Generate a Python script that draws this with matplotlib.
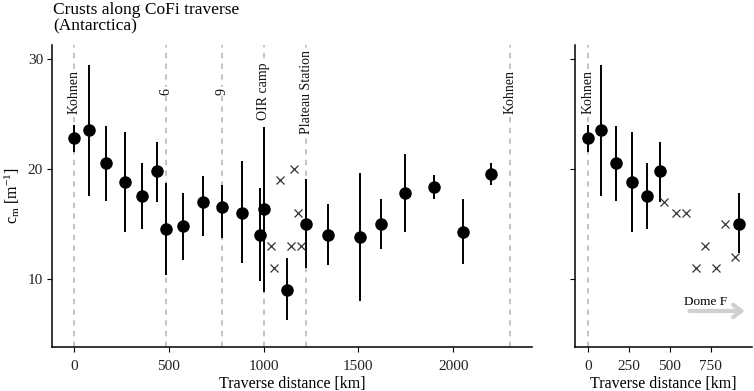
import matplotlib
matplotlib.use("Agg")
import matplotlib.pyplot as plt

plt.rcParams['font.family'] = ['Liberation Serif', 'DejaVu Serif']
plt.rcParams['mathtext.fontset'] = 'custom'
plt.rcParams['mathtext.rm'] = 'Liberation Serif'
plt.rcParams['mathtext.it'] = 'Liberation Serif:italic'

# CoFi traverse (left panel)
dist_cofi = [0, 80, 172, 271, 361, 439, 487, 576, 681, 779, 886, 982, 1002, 1122,
             1225, 1340, 1511, 1621, 1745, 1901, 2051, 2200]
cm_cofi = [22.8, 23.5, 20.5, 18.8, 17.5, 19.8, 14.5, 14.75, 17.0, 16.5, 16.0, 14.0,
           16.3, 9.0, 15.0, 14.0, 13.75, 15.0, 17.75, 18.3, 14.25, 19.5]
lo_cofi = [21.55, 17.55, 17.1, 14.2, 14.5, 17.0, 10.3, 11.7, 13.85, 13.65, 11.4, 9.8,
           8.8, 6.2, 11.0, 11.2, 7.95, 12.7, 14.2, 17.2, 11.3, 18.55]
hi_cofi = [24.0, 29.45, 23.9, 23.3, 20.5, 22.45, 18.7, 17.8, 19.3, 18.5, 20.65, 18.2,
           23.75, 11.85, 19.05, 16.8, 19.6, 17.25, 21.3, 19.45, 17.2, 20.5]
x_cross_cofi = [1040, 1055, 1085, 1145, 1163, 1180, 1200]
y_cross_cofi = [13, 11, 19, 13, 20, 16, 13]
site_cofi = [0, 487, 779, 1000, 1225, 2300]
site_names_cofi = ["Kohnen", "6", "9", "OIR camp", "Plateau Station", "Kohnen"]

# towards Dome F (right panel)
dist_domef = [0, 80, 172, 271, 361, 439, 923]
cm_domef = [22.8, 23.5, 20.5, 18.8, 17.5, 19.8, 15.0]
lo_domef = [21.55, 17.55, 17.1, 14.2, 14.5, 17.0, 12.3]
hi_domef = [24.0, 29.45, 23.9, 23.3, 20.5, 22.45, 17.8]
x_cross_domef = [466, 537, 599, 660, 715, 781, 838, 899]
y_cross_domef = [17, 16, 16, 11, 13, 11, 15, 12]
site_domef = [0]
site_names_domef = ["Kohnen"]

fig = plt.figure(figsize=(7.54, 3.91), dpi=100)
ax1 = fig.add_axes([52 / 754, 44 / 391, 480 / 754, 302 / 391])
ax2 = fig.add_axes([575 / 754, 44 / 391, 177 / 754, 302 / 391])


def draw_panel(ax, dist, cm, lo, hi, xc, yc, sites, names):
    for s, name in zip(sites, names):
        ax.axvline(s, color='#b3b3b3', lw=1.1, dashes=(3.5, 3.5), zorder=1)
        ax.text(s, 27.0, name, rotation=90, ha='center', va='center', fontsize=10,
                color='#111111', zorder=2,
                bbox=dict(facecolor='white', edgecolor='none', pad=0.8))
    ax.vlines(dist, lo, hi, color='black', lw=1.4, zorder=3)
    ax.plot(dist, cm, 'o', color='black', ms=8, zorder=4)
    ax.plot(xc, yc, 'x', color='#333333', ms=5.5, mew=0.9, zorder=4)
    ax.set_ylim(3.77, 31.25)
    ax.set_yticks([10, 20, 30])
    for sp in ['top', 'right']:
        ax.spines[sp].set_visible(False)
    for sp in ['left', 'bottom']:
        ax.spines[sp].set_linewidth(1.1)
    ax.tick_params(direction='out', length=3.5, width=0.8, labelsize=11, pad=3,
                   colors='black', labelcolor='#222222')
    ax.tick_params(axis='x', pad=5.5)
    ax.set_xlabel("Traverse distance [km]", fontsize=11.5, labelpad=2.5)


draw_panel(ax1, dist_cofi, cm_cofi, lo_cofi, hi_cofi, x_cross_cofi, y_cross_cofi,
           site_cofi, site_names_cofi)
ax1.set_xlim(-115, 2415)
ax1.set_xticks([0, 500, 1000, 1500, 2000])
ax1.set_ylabel(r'$\mathrm{c_m}$ [m$^{-1}$]', fontsize=11.5, labelpad=4)

draw_panel(ax2, dist_domef, cm_domef, lo_domef, hi_domef, x_cross_domef, y_cross_domef,
           site_domef, site_names_domef)
ax2.set_xlim(-81, 1003)
ax2.set_xticks([0, 250, 500, 750])
ax2.set_yticklabels([])

ax2.annotate('', xy=(976, 7.05), xytext=(603, 7.05),
             arrowprops=dict(arrowstyle='->,head_length=0.6,head_width=0.45',
                             color='#d0d0d0', lw=3, mutation_scale=10))
ax2.text(721, 7.9, "Dome F", ha='center', va='center', fontsize=9.5)

fig.text(53 / 754, 1 - 2 / 391, "Crusts along CoFi traverse\n(Antarctica)",
         ha='left', va='top', fontsize=12.5, linespacing=1.05)

fig.savefig("out.png", dpi=100)
